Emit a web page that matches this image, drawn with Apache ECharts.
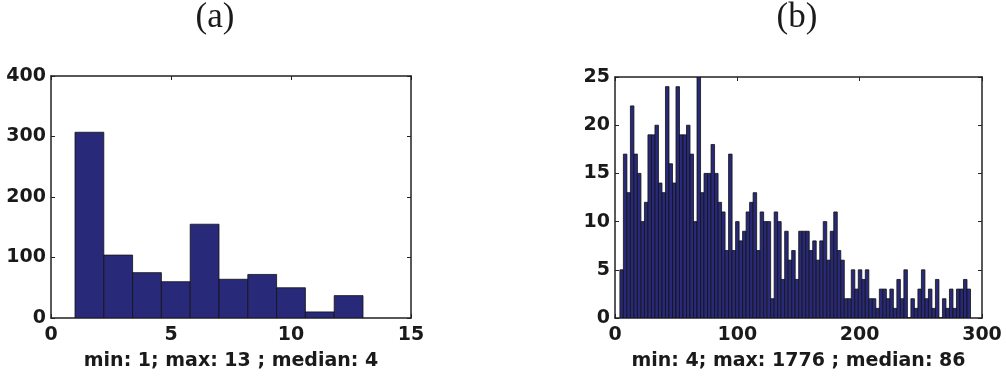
<!DOCTYPE html>
<html>
<head>
<meta charset="utf-8">
<script src="https://cdn.jsdelivr.net/npm/echarts@6/dist/echarts.min.js"></script>
<style>
  html, body { margin: 0; background: #fff; }
  #chart { width: 1006px; height: 376px; }
</style>
</head>
<body>
<div id="chart"></div>
<script>
  // (a) 10 bins from 1 to 13
  var startA = 1
  var widthA = 1.2
  var countsA = [307, 104, 75, 60, 155, 64, 72, 50, 10, 37]
  var xTicksA = [0, 5, 10, 15]
  var yTicksA = [0, 100, 200, 300, 400]
  var nameA = 'min: 1; max: 13 ; median: 4'

  // (b) bins from 4, only the part below 300 is visible
  var startB = 4
  var widthB = 2.866
  var countsB = [5, 17, 13, 22, 17, 15, 10, 12, 19, 19,
    20, 14, 13, 24, 16, 14, 24, 19, 19, 20,
    17, 10, 25, 13, 15, 15, 18, 15, 12, 11,
    7, 17, 7, 10, 8, 9, 11, 12, 13, 7,
    11, 10, 10, 2, 11, 10, 4, 9, 6, 7,
    4, 9, 9, 9, 7, 8, 6, 8, 10, 6,
    9, 11, 7, 6, 2, 2, 5, 3, 5, 4,
    5, 2, 2, 1, 3, 3, 2, 3, 1, 4,
    2, 5, 0, 2, 1, 3, 5, 2, 3, 1,
    4, 0, 2, 1, 3, 1, 3, 3, 4, 3]
  var xTicksB = [0, 100, 200, 300]
  var yTicksB = [0, 5, 10, 15, 20, 25]
  var nameB = 'min: 4; max: 1776 ; median: 86'

  var textColor = '#1a1a1a'
  var barColor = '#29297a'
  var font = 'DejaVu Sans'

  // [left, right, count] per bin
  function toBins(start, width, counts) {
    var out = []
    for (var i = 0; i < counts.length; i++) out.push([start + i * width, start + (i + 1) * width, counts[i]])
    return out
  }

  function histItem(params, api) {
    var p0 = api.coord([api.value(0), api.value(2)])
    var p1 = api.coord([api.value(1), 0])
    return {
      type: 'rect',
      shape: {x: p0[0], y: p0[1], width: p1[0] - p0[0], height: p1[1] - p0[1]},
      style: {fill: barColor, stroke: '#111', lineWidth: 0.8}
    }
  }

  function axisRange(ticks) {
    return {min: ticks[0], max: ticks[ticks.length - 1], interval: ticks[1] - ticks[0]}
  }

  function mainX(grid, ticks, name) {
    var r = axisRange(ticks)
    return {
      type: 'value', gridIndex: grid, position: 'bottom', min: r.min, max: r.max, interval: r.interval,
      name: name, nameLocation: 'middle', nameGap: 34,
      nameTextStyle: {fontFamily: font, fontWeight: 'bold', fontSize: 19, color: textColor},
      axisLine: {show: true, onZero: false, lineStyle: {color: '#222', width: 1.5}},
      axisTick: {show: true, inside: true, length: 4, lineStyle: {color: '#222'}},
      axisLabel: {margin: 8, fontFamily: font, fontWeight: 'bold', fontSize: 19, color: textColor},
      splitLine: {show: false}
    }
  }

  function mainY(grid, ticks) {
    var r = axisRange(ticks)
    return {
      type: 'value', gridIndex: grid, position: 'left', min: r.min, max: r.max, interval: r.interval,
      axisLine: {show: true, onZero: false, lineStyle: {color: '#222', width: 1.5}},
      axisTick: {show: true, inside: true, length: 4, lineStyle: {color: '#222'}},
      axisLabel: {margin: 5, fontFamily: font, fontWeight: 'bold', fontSize: 19, color: textColor},
      splitLine: {show: false}
    }
  }

  // mirrored axes on top / right, ticks only
  function mirror(grid, ticks, pos) {
    var r = axisRange(ticks)
    return {
      type: 'value', gridIndex: grid, position: pos, min: r.min, max: r.max, interval: r.interval,
      axisLine: {show: true, onZero: false, lineStyle: {color: '#222', width: 1.5}},
      axisTick: {show: true, inside: true, length: 4, lineStyle: {color: '#222'}},
      axisLabel: {show: false},
      splitLine: {show: false}
    }
  }

  var option = {
    animation: false,
    backgroundColor: '#fff',
    graphic: [
      {type: 'text', x: 215, y: 0, style: {text: '(a)', align: 'center', fontFamily: 'Liberation Serif', fontSize: 35, fill: textColor}},
      {type: 'text', x: 797, y: 0, style: {text: '(b)', align: 'center', fontFamily: 'Liberation Serif', fontSize: 35, fill: textColor}}
    ],
    grid: [
      {left: 51, right: 595, top: 76, bottom: 56},
      {left: 615, right: 24, top: 77, bottom: 57}
    ],
    xAxis: [
      mainX(0, xTicksA, nameA),
      mirror(0, xTicksA, 'top'),
      mainX(1, xTicksB, nameB),
      mirror(1, xTicksB, 'top')
    ],
    yAxis: [
      mainY(0, yTicksA),
      mirror(0, yTicksA, 'right'),
      mainY(1, yTicksB),
      mirror(1, yTicksB, 'right')
    ],
    series: [
      {type: 'custom', xAxisIndex: 0, yAxisIndex: 0, clip: true, renderItem: histItem,
        encode: {x: [0, 1], y: 2}, data: toBins(startA, widthA, countsA)},
      {type: 'custom', xAxisIndex: 2, yAxisIndex: 2, clip: true, renderItem: histItem,
        encode: {x: [0, 1], y: 2}, data: toBins(startB, widthB, countsB)}
    ]
  }

  echarts.init(document.getElementById('chart'), null, {renderer: 'canvas'}).setOption(option)
</script>
</body>
</html>
